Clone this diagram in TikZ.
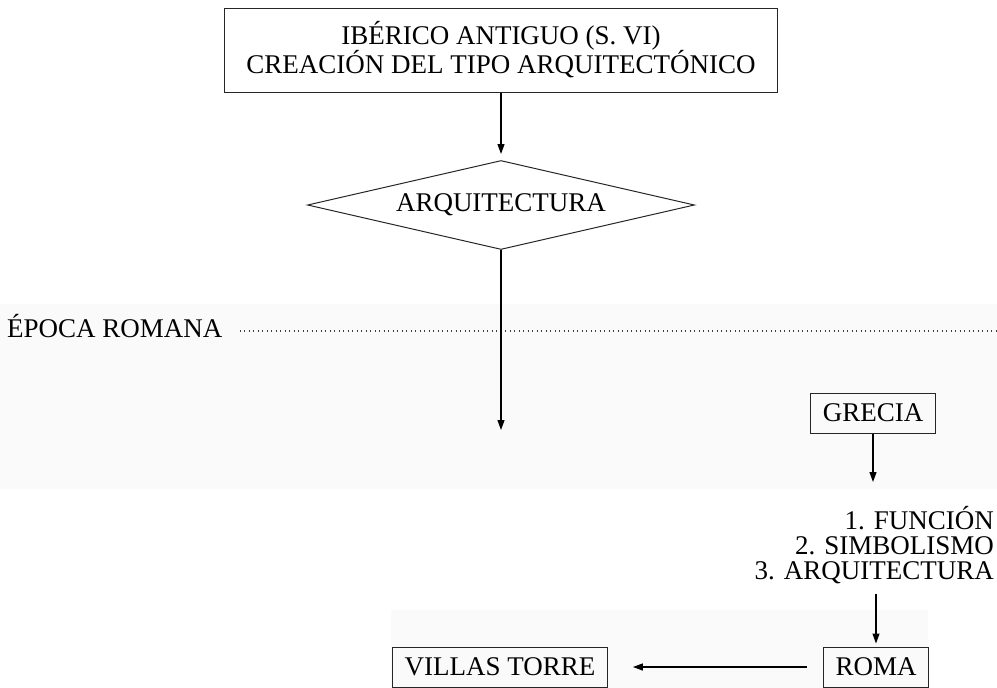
\documentclass[tikz,border=0pt]{standalone}
\usepackage{fontspec}
\setmainfont{Liberation Serif}
\usepackage{tikz}
\usetikzlibrary{shapes.geometric,arrows.meta}
\tikzstyle{box}=[rectangle, draw=black!85, line width=1pt, inner xsep=12pt, inner ysep=0pt, minimum height=40pt]
\tikzstyle{decision}=[diamond, draw=black!85, line width=1pt, inner sep=0pt, aspect=4.35, minimum width=387pt, minimum height=89pt]
\tikzstyle{arrow}=[line width=1.2pt, -{Triangle[length=10pt,width=7pt]}]
\tikzstyle{dots}=[line width=1.1pt, black!75, dash pattern=on 1.1pt off 3.4pt]
\tikzstyle{band}=[fill=black!2, draw=none]

\begin{document}
\begin{tikzpicture}[x=1pt, y=-1pt, font=\fontsize{27}{29}\selectfont]
    \useasboundingbox (0,0) rectangle (997,688);
    % faint bands of the scan
    \fill[band] (0,304) rectangle (997,489);
    \fill[band] (391,610) rectangle (928,688);

    % upper part
    \node[box, minimum width=553pt, minimum height=84pt, align=center] (iberico) at (501,50)
      {IBÉRICO ANTIGUO (S. VI)\\CREACIÓN DEL TIPO ARQUITECTÓNICO};
    \node[decision] (arq) at (501,205) {ARQUITECTURA};
    \coordinate (arqend) at (501,430);
    \draw[arrow, shorten >=6pt] (iberico.south) -- (arq.north);

    % roman period line
    \node[anchor=base west, inner sep=0pt] (epoca) at (7,337) {ÉPOCA ROMANA};
    \coordinate (epocaend) at (997,331);
    \draw[dots] ([xshift=17pt]epoca.east |- epocaend) -- (epocaend);
    \draw[arrow] (arq.south) -- (arqend);

    % right column
    \node[box] (grecia) at (873,413) {GRECIA};
    \node[align=right, anchor=north east, inner sep=0pt, font=\fontsize{27}{25}\selectfont] (rasgos) at (994,506)
      {1. FUNCIÓN\\2. SIMBOLISMO\\3. ARQUITECTURA};
    \node[box] (roma) at (876,667) {ROMA};
    \node[box] (villas) at (500,667) {VILLAS TORRE};

    \draw[arrow, shorten >=24pt] (grecia.south) -- (grecia.south |- rasgos.north);
    \draw[arrow, shorten <=10pt, shorten >=3pt] (roma.north |- rasgos.south) -- (roma.north);
    \draw[arrow, shorten <=16pt, shorten >=25pt] (roma.west) -- (villas.east);

\end{tikzpicture}
\end{document}
